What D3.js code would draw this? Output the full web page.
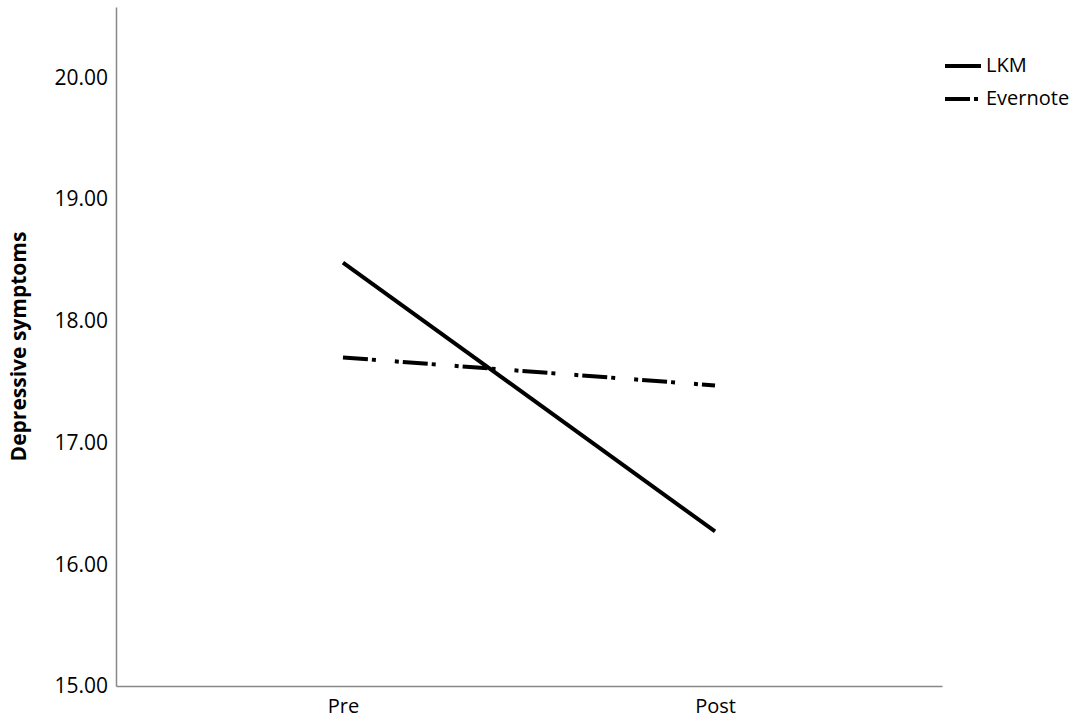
<!DOCTYPE html>
<html>
<head>
<meta charset="utf-8">
<script src="https://cdn.jsdelivr.net/npm/d3@7"></script>
<style>
  html, body { margin: 0; padding: 0; background: #fff; }
  svg { display: block; }
  text { font-family: "Open Sans", Lato, sans-serif; fill: #000; }
</style>
</head>
<body>
<svg id="chart" width="1075" height="721"></svg>
<script>
// ---- data ----
const categories = ["Pre", "Post"];
const seriesNames = ["LKM", "Evernote"];
const lkmValues = [18.48, 16.27];
const evernoteValues = [17.70, 17.47];
const yTicks = [15, 16, 17, 18, 19, 20];
const yTitle = "Depressive symptoms";

const series = [
  { name: seriesNames[0], values: lkmValues, dash: null },
  { name: seriesNames[1], values: evernoteValues, dash: "25,4,4,19,4,4" }
];

// ---- layout ----
const svg = d3.select("#chart");
const plotLeft = 116, plotRight = 942, plotTop = 7, plotBottom = 686;
const fontFam = "'Open Sans', Lato, sans-serif";

const x = d3.scalePoint().domain(categories).range([plotLeft, plotRight]).padding(0.61);
const y = d3.scaleLinear().domain([15, 20.58]).range([plotBottom, plotTop]);

// axes
const yAxis = d3.axisLeft(y).tickValues(yTicks).tickFormat(d3.format(".2f")).tickSize(0).tickPadding(8);
const gy = svg.append("g").attr("transform", `translate(${plotLeft},0)`).call(yAxis);
gy.select(".domain").attr("stroke", "#888").attr("stroke-width", 1.5);
gy.selectAll("text").style("font-size", "21px").style("font-family", fontFam).attr("fill", "#111");

const xAxis = d3.axisBottom(x).tickSize(0).tickPadding(13);
const gx = svg.append("g").attr("transform", `translate(0,${plotBottom})`).call(xAxis);
gx.select(".domain").attr("stroke", "#888").attr("stroke-width", 1.5);
gx.selectAll("text").style("font-size", "20px").style("font-family", fontFam).attr("fill", "#111");

// y title
svg.append("text")
  .attr("transform", `translate(26,${(plotTop + plotBottom) / 2}) rotate(-90)`)
  .attr("text-anchor", "middle")
  .style("font-size", "21px")
  .style("font-weight", "bold")
  .text(yTitle);

// lines
const line = d3.line().x((d, i) => x(categories[i])).y(d => y(d));
series.forEach(s => {
  svg.append("path")
    .datum(s.values)
    .attr("d", line)
    .attr("fill", "none")
    .attr("stroke", "#000")
    .attr("stroke-width", 4)
    .attr("stroke-dasharray", s.dash);
});

// legend
const legend = svg.append("g").attr("transform", "translate(945,0)");
const legendY = [66, 99];
series.forEach((s, i) => {
  legend.append("line")
    .attr("x1", 0).attr("x2", 36)
    .attr("y1", legendY[i]).attr("y2", legendY[i])
    .attr("stroke", "#000").attr("stroke-width", 4)
    .attr("stroke-dasharray", s.dash ? "25,4,4,19" : null);
  legend.append("text")
    .attr("x", 41).attr("y", legendY[i] + 6)
    .style("font-size", "20px")
    .text(s.name);
});
</script>
</body>
</html>
